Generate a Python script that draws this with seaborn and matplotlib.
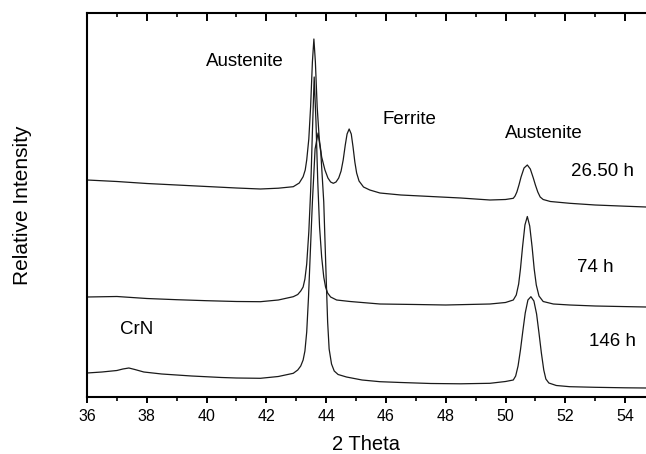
import numpy as np
import pandas as pd
import matplotlib
matplotlib.use("Agg")
import matplotlib.pyplot as plt
from matplotlib.ticker import MultipleLocator
import seaborn as sns

# Graphs set-up
sns.set_theme(style="ticks")
plt.rcParams['font.family'] = ['Liberation Sans', 'DejaVu Sans']

# XRD patterns (2 theta, relative intensity)
theta_26h = [36.0, 37.0, 38.0, 39.0, 40.0, 41.0, 41.8, 42.4, 42.9, 43.1, 43.23, 43.3,
             43.35, 43.42, 43.48, 43.54, 43.59, 43.64, 43.7, 43.77, 43.85, 43.96, 44.06,
             44.15, 44.24, 44.33, 44.42, 44.5, 44.57, 44.64, 44.7, 44.77, 44.84, 44.9,
             44.96, 45.02, 45.1, 45.25, 45.46, 45.8, 46.5, 47.5, 48.5, 49.48, 50.0, 50.26,
             50.32, 50.38, 50.45, 50.52, 50.62, 50.73, 50.83, 50.93, 51.0, 51.08, 51.16,
             51.26, 51.5, 52.15, 53.0, 54.0, 54.7]
int_26h = [217, 215.5, 213.5, 212, 210.5, 209, 208, 208.8, 210.3, 214, 220.3, 227,
           237, 258, 290, 335, 358, 335, 290, 258, 240, 227, 219,
           215, 213.7, 215, 219, 226, 237, 252, 263, 268, 263, 250,
           235, 224, 216, 210, 207, 204, 202, 200.5, 199, 197, 197.5, 198.7,
           201, 205, 212, 220, 229, 232, 228, 219, 212, 205, 200,
           197.5, 195.5, 193.7, 192, 190.8, 190]

theta_74h = [36.0, 37.0, 37.5, 38.0, 39.0, 40.0, 41.0, 41.8, 42.4, 42.9, 43.05, 43.15,
             43.23, 43.29, 43.35, 43.42, 43.48, 43.54, 43.6, 43.66, 43.72, 43.78, 43.85,
             43.92, 43.98, 44.05, 44.15, 44.35, 44.8, 45.8, 47.0, 48.0, 49.48, 50.0, 50.26,
             50.36, 50.44, 50.5, 50.57, 50.65, 50.73, 50.81, 50.89, 50.96, 51.03, 51.12,
             51.26, 51.6, 52.15, 53.0, 54.0, 54.7]
int_74h = [100, 100.5, 99.5, 98.5, 97.3, 96.3, 95.5, 95.3, 97, 100.3, 102.5, 106,
           110, 118, 133, 165, 205, 265, 320, 275, 215, 170, 140,
           120, 110, 104, 100, 97, 95.5, 93, 92.5, 92, 93, 94.5, 97,
           102, 113, 128, 150, 172, 180.5, 171, 150, 128, 112, 101,
           95.5, 93, 92, 91, 90.4, 90]

theta_146h = [36.0, 36.5, 37.0, 37.2, 37.4, 37.6, 37.9, 38.5, 39.5, 40.5, 41.0, 41.8,
              42.4, 42.9, 43.05, 43.15, 43.23, 43.29, 43.35, 43.41, 43.46, 43.54, 43.63,
              43.73, 43.82, 43.92, 44.0, 44.05, 44.1, 44.18, 44.27, 44.4, 44.68, 45.2,
              45.8, 46.5, 47.5, 48.5, 49.48, 50.0, 50.26, 50.34, 50.42, 50.5, 50.58, 50.66,
              50.75, 50.85, 50.95, 51.04, 51.12, 51.2, 51.28, 51.35, 51.45, 51.7, 52.15,
              53.0, 54.0, 54.7]
int_146h = [24, 25, 26.5, 28, 29, 27.5, 25, 23, 21, 19.5, 19, 18.7,
            20.5, 23.7, 27, 31, 37, 46, 65, 100, 137, 195, 248,
            264, 245, 195, 120, 75, 48, 33, 26, 22.5, 20, 17,
            15.3, 14.5, 13.5, 13.2, 13.7, 15.5, 17, 21, 31, 47, 66, 84,
            97, 100.3, 96, 83, 64, 44, 27, 18, 14, 11.5, 10.3,
            9.7, 9.2, 9]

patterns = [theta_26h, theta_74h, theta_146h]
intensities = [int_26h, int_74h, int_146h]

# peak / phase annotations: (text, 2 theta, intensity)
labels = [("Austenite", 41.28, 335), ("Ferrite", 46.77, 277.5), ("Austenite", 51.28, 263.5),
          ("26.50 h", 53.24, 225.5), ("74 h", 53.0, 130), ("146 h", 53.57, 55),
          ("CrN", 37.66, 67)]


def main():
    fig = plt.figure(figsize=(6.46, 4.54), dpi=100)
    ax = fig.add_axes([87 / 646, 57 / 454, 1 - 87 / 646, 384 / 454])

    for th, inten in zip(patterns, intensities):
        df = pd.DataFrame({'theta': th, 'intensity': inten})
        sns.lineplot(data=df, x='theta', y='intensity', color='#1a1a1a', lw=0.9,
                     ax=ax, estimator=None)

    for txt, x, y in labels:
        ax.text(x, y, txt, ha='center', va='center', fontsize=13.5, color='black')

    ax.set_xlim(36, 54.7)
    ax.set_ylim(0, 384)
    ax.xaxis.set_major_locator(MultipleLocator(2))
    ax.xaxis.set_minor_locator(MultipleLocator(1))
    ax.set_yticks([])
    ax.tick_params(axis='x', which='major', direction='out', length=4.5, width=1.4,
                   labelsize=11.5, pad=4, colors='black', top=True)
    ax.tick_params(axis='x', which='minor', direction='out', length=3, width=1.4, top=True)
    # top ticks point inwards
    for t in ax.xaxis.get_major_ticks():
        t.tick2line.set_marker(3)
        t.tick2line.set_markersize(5.5)
    for t in ax.xaxis.get_minor_ticks():
        t.tick2line.set_marker(3)
        t.tick2line.set_markersize(3)

    for side in ['left', 'bottom', 'top']:
        ax.spines[side].set_color('black')
        ax.spines[side].set_linewidth(1.5)
    ax.spines['right'].set_visible(False)

    ax.set_xlabel('2 Theta', fontsize=14.5, color='black')
    ax.set_ylabel('Relative Intensity', fontsize=15, color='black')
    ax.xaxis.set_label_coords(0.5, -0.10)
    ax.yaxis.set_label_coords(-0.098, 0.5)

    fig.savefig('out.png', dpi=100)


if __name__ == "__main__":
    main()
